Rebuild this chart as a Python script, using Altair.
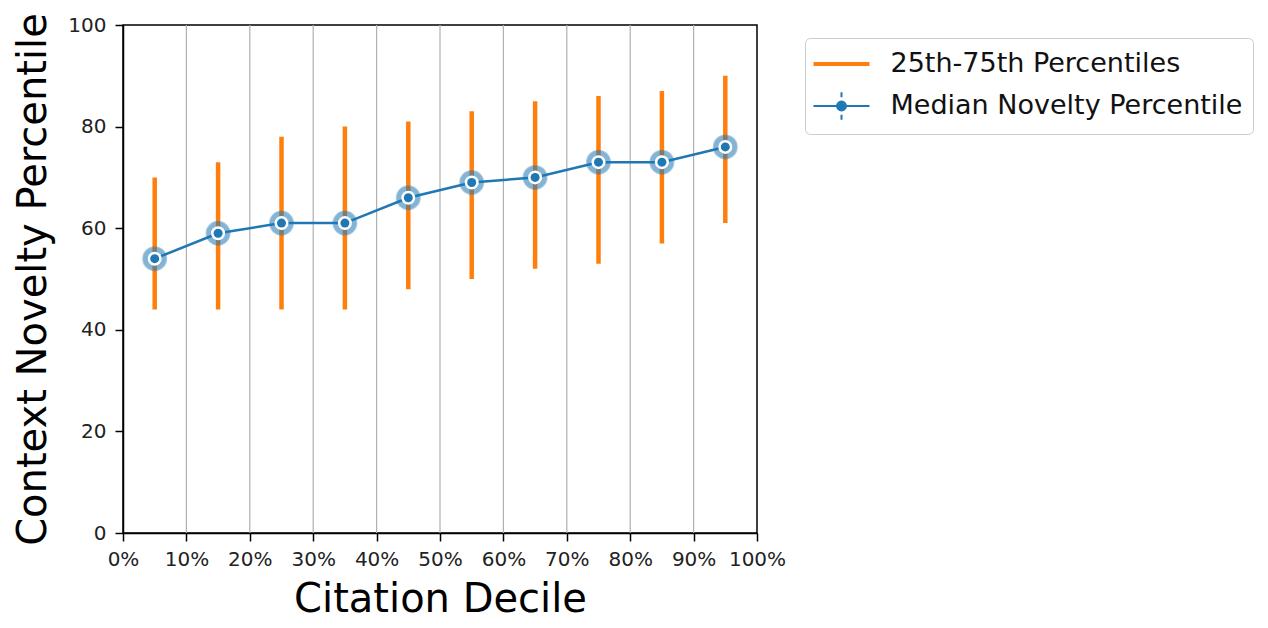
import altair as alt
import pandas as pd

# ---- data ----
deciles = [0.05, 0.15, 0.25, 0.35, 0.45, 0.55, 0.65, 0.75, 0.85, 0.95]
median_pct = [54, 59, 61, 61, 66, 69, 70, 73, 73, 76]
q25_pct = [44, 44, 44, 44, 48, 50, 52, 53, 57, 61]
q75_pct = [70, 73, 78, 80, 81, 83, 85, 86, 87, 90]
x_tick_values = [0.0, 0.1, 0.2, 0.3, 0.4, 0.5, 0.6, 0.7, 0.8, 0.9, 1.0]
grid_values = [0.1, 0.2, 0.3, 0.4, 0.5, 0.6, 0.7, 0.8, 0.9]
y_tick_values = [0, 20, 40, 60, 80, 100]
series_names = ["25th-75th Percentiles", "Median Novelty Percentile"]

ORANGE = "#ff7f0e"
BLUE = "#1f77b4"
FONT = "DejaVu Sans"

df = pd.DataFrame({"decile": deciles, "median": median_pct, "q25": q25_pct, "q75": q75_pct})
grid_df = pd.DataFrame({"decile": grid_values})
legend_df = pd.DataFrame({"series": series_names,
                          "decile": [deciles[0], deciles[0]],
                          "median": [median_pct[0], median_pct[0]]})

x_scale = alt.Scale(domain=[0, 1], nice=False, zero=False)
y_scale = alt.Scale(domain=[0, 100], nice=False)

x_axis = alt.Axis(values=x_tick_values, format=".0%", title="Citation Decile", grid=False,
                  labelFontSize=20, titleFontSize=40, labelFont=FONT, titleFont=FONT,
                  titleFontWeight="normal", labelColor="#222222", titleColor="#000000",
                  tickSize=8, tickWidth=1.5, tickColor="#000000", domainColor="#000000",
                  domainWidth=1.5, labelPadding=8, titlePadding=10, labelFlush=False)
y_axis = alt.Axis(values=y_tick_values, title="Context Novelty Percentile", grid=False,
                  labelFontSize=20, titleFontSize=40, labelFont=FONT, titleFont=FONT,
                  titleFontWeight="normal", labelColor="#222222", titleColor="#000000",
                  tickSize=8, tickWidth=1.5, tickColor="#000000", domainColor="#000000",
                  domainWidth=1.5, labelPadding=9, titlePadding=14, labelFlush=False)

X = alt.X("decile:Q", scale=x_scale, axis=x_axis)
Y = alt.Y("median:Q", scale=y_scale, axis=y_axis)

grid = alt.Chart(grid_df).mark_rule(color="#b0b0b0", strokeWidth=1.2).encode(x=X)

bars = alt.Chart(df).mark_rule(color=ORANGE, strokeWidth=4.5).encode(
    x=X, y=alt.Y("q25:Q", scale=y_scale, axis=y_axis), y2="q75:Q")

line = alt.Chart(df).mark_line(color=BLUE, strokeWidth=2.5).encode(x=X, y=Y)

halo = alt.Chart(df).mark_point(filled=True, size=529, color=BLUE, opacity=0.55,
                                stroke=BLUE, strokeWidth=2, strokeOpacity=0.7).encode(x=X, y=Y)
white_ring = alt.Chart(df).mark_point(filled=True, size=196, color="white", opacity=1).encode(x=X, y=Y)
dot = alt.Chart(df).mark_point(filled=True, size=81, color=BLUE, opacity=1).encode(x=X, y=Y)

path_line = "M-2,0H2"
path_marker = ("M-2,0H2M0,-0.98V-0.62M0,0.62V0.98"
               "M0.32,0A0.32,0.32 0 1,1 -0.32,0A0.32,0.32 0 1,1 0.32,0Z"
               "M0.18,0A0.18,0.18 0 1,1 -0.18,0A0.18,0.18 0 1,1 0.18,0Z"
               "M0.05,0A0.05,0.05 0 1,1 -0.05,0A0.05,0.05 0 1,1 0.05,0Z")

legend_def = alt.Legend(title=None, orient="none", legendX=682, legendY=13,
                        labelFont=FONT, labelFontSize=27, labelColor="#111111",
                        labelLimit=600, labelOffset=33, symbolOffset=10.5, symbolSize=784,
                        symbolOpacity=1, rowPadding=11,
                        padding=10, strokeColor="#cccccc", fillColor="white",
                        cornerRadius=5)

legend_layer = alt.Chart(legend_df).mark_point(opacity=0, filled=False).encode(
    x=X, y=Y,
    color=alt.Color("series:N", scale=alt.Scale(domain=series_names, range=[ORANGE, BLUE]),
                    legend=legend_def),
    shape=alt.Shape("series:N", scale=alt.Scale(domain=series_names, range=[path_line, path_marker]),
                    legend=legend_def),
    strokeWidth=alt.StrokeWidth("series:N", scale=alt.Scale(domain=series_names, range=[4, 2]),
                                legend=legend_def),
)

chart = alt.layer(grid, bars, line, halo, white_ring, dot, legend_layer).properties(
    width=634, height=508,
    autosize=alt.AutoSizeParams(type="none"),
    padding={"left": 115, "top": 17, "right": 503, "bottom": 92},
).configure_view(stroke="#000000", strokeWidth=1.5)

chart.save("out.html", embed_options={"renderer": "svg", "actions": False})
